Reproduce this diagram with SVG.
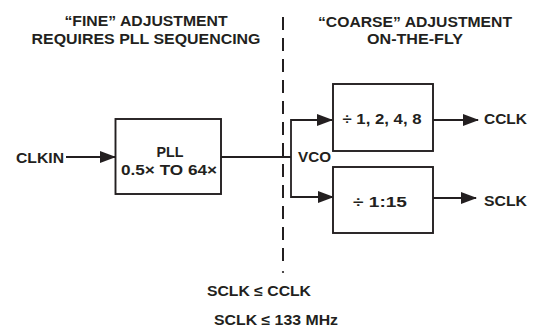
<svg xmlns="http://www.w3.org/2000/svg" width="537" height="329" viewBox="0 0 537 329">
<style>
text{font-family:"Liberation Sans",Arial,sans-serif;font-weight:bold;fill:#231f20;font-size:14.5px}
.t{font-size:14.5px}
.box{fill:#fff;stroke:#231f20;stroke-width:1.9}
.ln{fill:none;stroke:#231f20;stroke-width:1.8}
.dash{fill:none;stroke:#231f20;stroke-width:2;stroke-dasharray:13 8}
</style>
<defs>
<marker id="ah" markerWidth="16" markerHeight="12" refX="15" refY="6" orient="auto" markerUnits="userSpaceOnUse">
<path d="M0,0 L16,6 L0,12 Z" fill="#231f20"/>
</marker>
</defs>
<rect width="537" height="329" fill="#fff"/>
<g id="titles">
<text class="t" x="146" y="26" text-anchor="middle" textLength="163" lengthAdjust="spacingAndGlyphs">“FINE” ADJUSTMENT</text>
<text class="t" x="146" y="44" text-anchor="middle" textLength="229" lengthAdjust="spacingAndGlyphs">REQUIRES PLL SEQUENCING</text>
<text class="t" x="415" y="27" text-anchor="middle" textLength="194" lengthAdjust="spacingAndGlyphs">“COARSE” ADJUSTMENT</text>
<text class="t" x="415" y="44" text-anchor="middle" textLength="96" lengthAdjust="spacingAndGlyphs">ON-THE-FLY</text>
</g>
<g id="divider">
<line class="dash" x1="283" y1="17" x2="283" y2="264"/>
<circle cx="283" cy="272" r="1.1" fill="#231f20"/>
</g>
<g id="connectors">
<line class="ln" x1="66" y1="157" x2="115" y2="157" marker-end="url(#ah)"/>
<line class="ln" x1="221" y1="157" x2="291" y2="157"/>
<polyline class="ln" points="332,120 291,120 291,197 333,197" marker-end="url(#ah)"/>
<line class="ln" x1="291" y1="120" x2="332" y2="120" marker-end="url(#ah)"/>
<line class="ln" x1="433" y1="120" x2="478" y2="120" marker-end="url(#ah)"/>
<line class="ln" x1="433" y1="198" x2="476" y2="198" marker-end="url(#ah)"/>
</g>
<g id="clkin">
<text x="16" y="163" textLength="48" lengthAdjust="spacingAndGlyphs">CLKIN</text>
</g>
<g id="pll">
<rect class="box" x="115.5" y="119" width="105.5" height="75"/>
<text x="170" y="157" text-anchor="middle" textLength="27" lengthAdjust="spacingAndGlyphs">PLL</text>
<text x="169" y="175" text-anchor="middle" textLength="96" lengthAdjust="spacingAndGlyphs">0.5× TO 64×</text>
</g>
<g id="vco">
<text x="298" y="162" textLength="33" lengthAdjust="spacingAndGlyphs">VCO</text>
</g>
<g id="div-cclk">
<rect class="box" x="333" y="84" width="100" height="67"/>
<text x="382" y="124" text-anchor="middle" textLength="79" lengthAdjust="spacingAndGlyphs">÷ 1, 2, 4, 8</text>
</g>
<g id="div-sclk">
<rect class="box" x="333" y="167" width="100" height="66"/>
<text x="380" y="207" text-anchor="middle" textLength="54" lengthAdjust="spacingAndGlyphs">÷ 1:15</text>
</g>
<g id="cclk">
<text x="484" y="124" textLength="43" lengthAdjust="spacingAndGlyphs">CCLK</text>
</g>
<g id="sclk">
<text x="484" y="206" textLength="43" lengthAdjust="spacingAndGlyphs">SCLK</text>
</g>
<g id="notes">
<text x="207" y="296" textLength="104" lengthAdjust="spacingAndGlyphs">SCLK ≤ CCLK</text>
<text x="214" y="325" textLength="124" lengthAdjust="spacingAndGlyphs">SCLK ≤ 133 MHz</text>
</g>
</svg>
